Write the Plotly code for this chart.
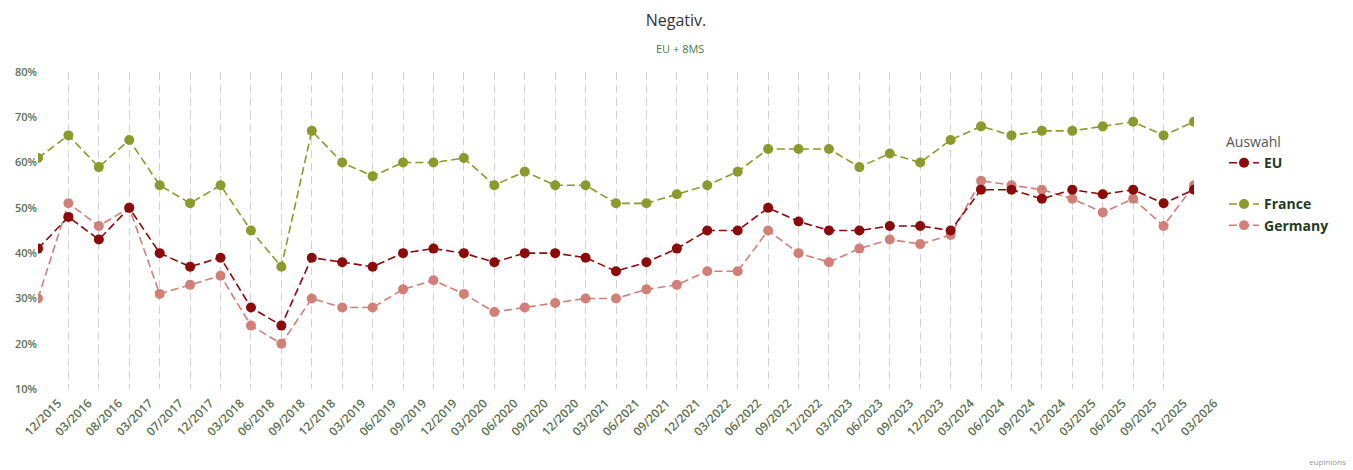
import plotly.graph_objects as go

categories = ["12/2015", "03/2016", "08/2016", "03/2017", "07/2017", "12/2017", "03/2018",
              "06/2018", "09/2018", "12/2018", "03/2019", "06/2019", "09/2019", "12/2019",
              "03/2020", "06/2020", "09/2020", "12/2020", "03/2021", "06/2021", "09/2021",
              "12/2021", "03/2022", "06/2022", "09/2022", "12/2022", "03/2023", "06/2023",
              "09/2023", "12/2023", "03/2024", "06/2024", "09/2024", "12/2024", "03/2025",
              "06/2025", "09/2025", "12/2025", "03/2026"]

eu = [41, 48, 43, 50, 40, 37, 39, 28, 24, 39, 38, 37, 40, 41, 40, 38, 40, 40, 39, 36, 38,
      41, 45, 45, 50, 47, 45, 45, 46, 46, 45, 54, 54, 52, 54, 53, 54, 51, 54]
france = [61, 66, 59, 65, 55, 51, 55, 45, 37, 67, 60, 57, 60, 60, 61, 55, 58, 55, 55, 51, 51,
          53, 55, 58, 63, 63, 63, 59, 62, 60, 65, 68, 66, 67, 67, 68, 69, 66, 69]
germany = [30, 51, 46, 50, 31, 33, 35, 24, 20, 30, 28, 28, 32, 34, 31, 27, 28, 29, 30, 30, 32,
           33, 36, 36, 45, 40, 38, 41, 43, 42, 44, 56, 55, 54, 52, 49, 52, 46, 55]

y_ticks = [10, 20, 30, 40, 50, 60, 70, 80]
y_tick_labels = [f"{v}%" for v in y_ticks]

series = [
    ("Germany", germany, "#d27f78", "b"),
    ("EU", eu, "#8b0a0a", "a"),
    ("France", france, "#8a9a2c", "b"),
]

W, H = 1353, 470
ML, MR, MT, MB = 38, 159, 72, 81

fig = go.Figure()
order = {"EU": 1, "France": 2, "Germany": 3}
for name, vals, color, grp in series:
    fig.add_trace(go.Scatter(
        x=categories, y=vals, name=name, mode="lines+markers",
        line=dict(color=color, width=1.6, dash="8px,4px"),
        marker=dict(color=color, size=10),
        legendgroup=grp, legendrank=order[name],
    ))

ph = H - MT - MB
pw = W - ML - MR
def py(pix):
    return (H - MB - pix) / ph
def px(pix):
    return (pix - ML) / pw

fig.update_layout(
    width=W, height=H,
    margin=dict(l=ML, r=MR, t=MT, b=MB),
    paper_bgcolor="white", plot_bgcolor="white",
    font=dict(family="Open Sans, Noto Sans, sans-serif", color="#5a6e52"),
    title=dict(text="Negativ.", x=676 / W, xanchor="center", y=1 - 20 / H, yanchor="middle",
               font=dict(size=16, color="#333333")),
    legend=dict(
        title=dict(text="Auswahl", font=dict(size=14, color="#555555", weight=400)),
        x=px(1224), xanchor="left", y=py(129), yanchor="top",
        font=dict(size=14, color="#1f3d1f", family="Open Sans, sans-serif", weight=700),
        tracegroupgap=20, traceorder="grouped",
    ),
    showlegend=True,
    annotations=[
        dict(text="EU + 8MS", x=px(680), xref="paper", xanchor="center",
             y=py(48), yref="paper", yanchor="middle", showarrow=False,
             font=dict(size=11, color="#4f7a4a")),
        dict(text="eupinions", x=px(1348), xref="paper", xanchor="right",
             y=py(462), yref="paper", yanchor="middle", showarrow=False,
             font=dict(size=8, color="#999999")),
    ],
)

fig.update_xaxes(
    type="category", range=[0, len(categories) - 1], automargin=False,
    showgrid=True, gridcolor="#d2d2d2", griddash="8px,5px", gridwidth=1,
    tickangle=-45, tickfont=dict(size=12, color="#5a7050", weight=600),
    ticklabelshift=20, ticklabelstandoff=4,
    showline=False, zeroline=False, ticks="",
)
fig.update_yaxes(
    range=[10, 80], tickvals=y_ticks, ticktext=y_tick_labels, automargin=False,
    showgrid=False, zeroline=False, showline=False,
    tickfont=dict(size=11, color="#5a7050", weight=600), ticks="", ticklabelstandoff=0,
)

fig.write_html("out.html", config={"displayModeBar": False},
               post_script="document.body.style.margin='0';")
